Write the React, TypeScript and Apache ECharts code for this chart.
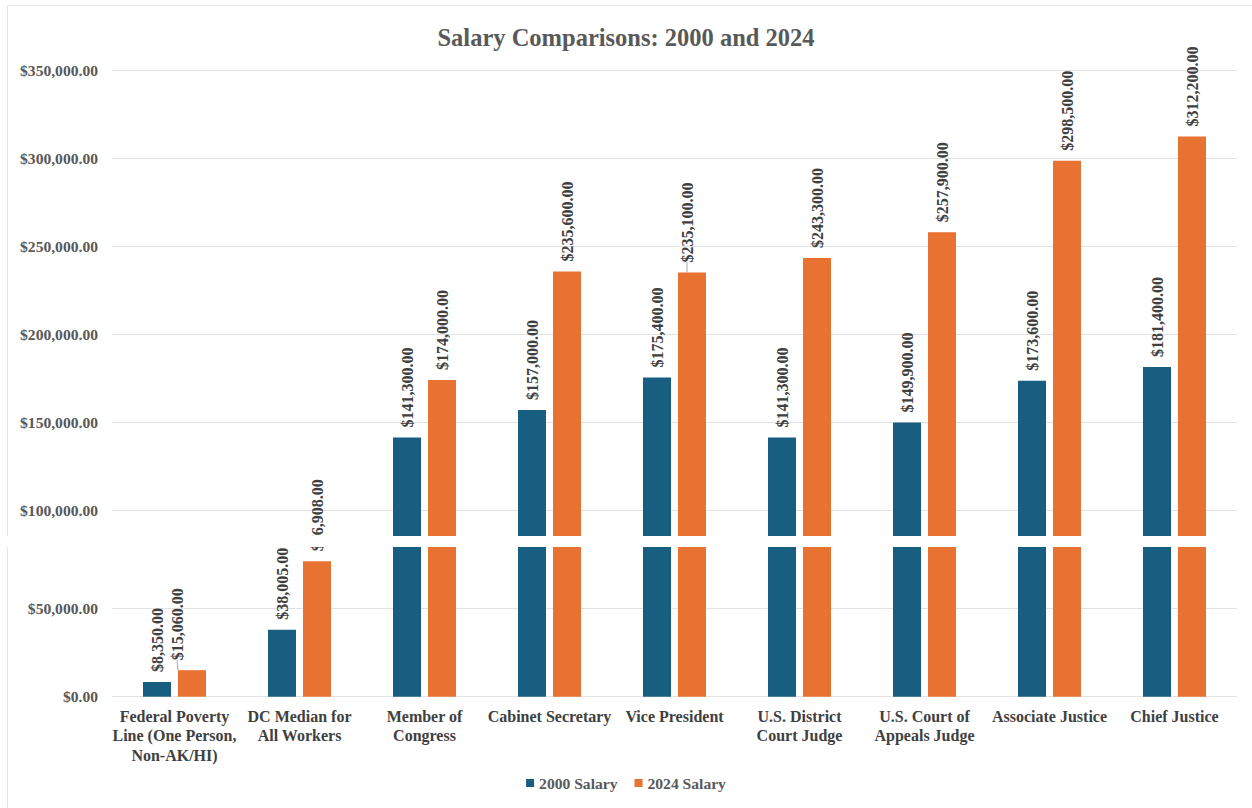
import React, { useEffect, useRef } from "react";
import * as echarts from "echarts";

const categories = [
  "Federal Poverty\nLine (One Person,\nNon-AK/HI)",
  "DC Median for\nAll Workers",
  "Member of\nCongress",
  "Cabinet Secretary",
  "Vice President",
  "U.S. District\nCourt Judge",
  "U.S. Court of\nAppeals Judge",
  "Associate Justice",
  "Chief Justice",
];
const salary2000 = [8350, 38005, 141300, 157000, 175400, 141300, 149900, 173600, 181400];
const salary2024 = [15060, 76908, 174000, 235600, 235100, 243300, 257900, 298500, 312200];
const yTicks = [0, 50000, 100000, 150000, 200000, 250000, 300000, 350000];

const BLUE = "#175E80";
const ORANGE = "#E87232";
const FONT = "'Liberation Serif', 'Times New Roman', serif";
const GRID_LINE = "#e2e2e2";
const SPLIT = 90000; // values above this are drawn in the upper panel
const LEADER: Record<string, { idx: number; dy: number }> = {
  low2024: { idx: 0, dy: -15 },
  up2024: { idx: 4, dy: -5 },
};

const fmt = (v: number) =>
  "$" + Number(v).toLocaleString("en-US", { minimumFractionDigits: 2, maximumFractionDigits: 2 });

export default function App() {
  const ref = useRef<HTMLDivElement>(null);
  useEffect(() => {
    if (!ref.current) return;
    const chart = echarts.init(ref.current, undefined, { renderer: "svg" });

    const labelBase = {
      show: true,
      position: "top" as const,
      rotate: 90,
      align: "left" as const,
      verticalAlign: "middle" as const,
      distance: 10,
      fontFamily: FONT,
      fontWeight: "bold" as const,
      fontSize: 16,
      color: "#404040",
      formatter: (p: any) => fmt(p.value),
    };
    const leaderLine = { show: true, lineStyle: { color: "#a6a6a6", width: 1 } };

    const upper = (arr: number[], leader?: number) =>
      arr.map((v, i) =>
        v >= SPLIT
          ? i === leader
            ? { value: v, labelLine: leaderLine }
            : { value: v, labelLine: { show: false } }
          : "-"
      );
    const lower = (arr: number[], leader?: number) =>
      arr.map((v, i) => ({
        value: v,
        label: { show: v < SPLIT },
        labelLine: i === leader ? leaderLine : { show: false },
      }));

    const barCommon = { barWidth: 28, barGap: "25%", clip: true };
    const axisFont = { fontFamily: FONT, fontWeight: "bold", fontSize: 15.6, color: "#595959" };

    const option: any = {
      animation: false,
      backgroundColor: "#ffffff",
      title: {
        text: "Salary Comparisons: 2000 and 2024",
        left: "center",
        top: 20,
        textStyle: { fontFamily: FONT, fontWeight: "bold", fontSize: 24.5, color: "#595959" },
      },
      legend: {
        data: ["2000 Salary", "2024 Salary"],
        bottom: 12,
        left: "center",
        icon: "rect",
        itemWidth: 8,
        itemHeight: 8,
        itemGap: 17,
        textStyle: { fontFamily: FONT, fontWeight: "bold", fontSize: 15.6, color: "#595959" },
      },
      grid: [
        { left: 112, right: 15, top: 70, bottom: 808 - 686.5 },
        { left: 112, right: 15, top: 520.6, bottom: 808 - 696.7 },
      ],
      xAxis: [
        {
          type: "category",
          gridIndex: 0,
          data: categories,
          axisLine: { show: false },
          axisTick: { show: false },
          axisLabel: { show: false },
        },
        {
          type: "category",
          gridIndex: 1,
          data: categories,
          axisLine: { show: false },
          axisTick: { show: false },
          axisLabel: {
            interval: 0,
            margin: 10,
            fontFamily: FONT,
            fontWeight: "bold",
            fontSize: 16,
            lineHeight: 19.5,
            color: "#404040",
          },
        },
      ],
      yAxis: [
        {
          type: "value",
          gridIndex: 0,
          min: yTicks[0],
          max: yTicks[yTicks.length - 1],
          interval: 50000,
          axisLine: { show: false },
          axisTick: { show: false },
          splitLine: {
            lineStyle: {
              color: yTicks.map((t) => (t >= 100000 ? GRID_LINE : "rgba(0,0,0,0)")),
              width: 1,
            },
          },
          axisLabel: {
            margin: 14,
            ...axisFont,
            formatter: (v: number) => (v >= 100000 ? fmt(v) : ""),
          },
        },
        {
          type: "value",
          gridIndex: 1,
          min: 0,
          max: 100000,
          interval: 50000,
          axisLine: { show: false },
          axisTick: { show: false },
          splitLine: {
            lineStyle: { color: [GRID_LINE, GRID_LINE, "rgba(0,0,0,0)"], width: 1 },
          },
          axisLabel: {
            margin: 14,
            ...axisFont,
            formatter: (v: number) => (v < 100000 ? fmt(v) : ""),
          },
        },
      ],
      series: [
        {
          name: "2000 Salary",
          type: "bar",
          xAxisIndex: 1,
          yAxisIndex: 1,
          data: lower(salary2000),
          itemStyle: { color: BLUE },
          label: labelBase,
          ...barCommon,
        },
        {
          name: "2024 Salary",
          type: "bar",
          xAxisIndex: 1,
          yAxisIndex: 1,
          data: lower(salary2024, LEADER.low2024.idx),
          itemStyle: { color: ORANGE },
          label: labelBase,
          labelLayout: (p: any) =>
            p.dataIndex === LEADER.low2024.idx ? { dy: LEADER.low2024.dy } : {},
          ...barCommon,
        },
        {
          name: "2000 Salary",
          type: "bar",
          xAxisIndex: 0,
          yAxisIndex: 0,
          data: upper(salary2000),
          itemStyle: { color: BLUE },
          label: labelBase,
          ...barCommon,
        },
        {
          name: "2024 Salary",
          type: "bar",
          xAxisIndex: 0,
          yAxisIndex: 0,
          data: upper(salary2024, LEADER.up2024.idx),
          itemStyle: { color: ORANGE },
          label: labelBase,
          labelLayout: (p: any) =>
            p.dataIndex === LEADER.up2024.idx ? { dy: LEADER.up2024.dy } : {},
          ...barCommon,
        },
      ],
      graphic: [
        {
          type: "rect",
          z: 100,
          shape: { x: 7.5, y: 5.5, width: 1300, height: 900 },
          style: { fill: "none", stroke: "#e4e4e4", lineWidth: 1 },
        },
        {
          type: "rect",
          z: 101,
          shape: { x: 0, y: 536, width: 1252, height: 11 },
          style: { fill: "#ffffff" },
        },
      ],
    };

    chart.setOption(option);
    return () => chart.dispose();
  }, []);

  return (
    <div
      ref={ref}
      style={{ position: "fixed", left: 0, top: 0, width: 1252, height: 808, background: "#fff" }}
    />
  );
}
